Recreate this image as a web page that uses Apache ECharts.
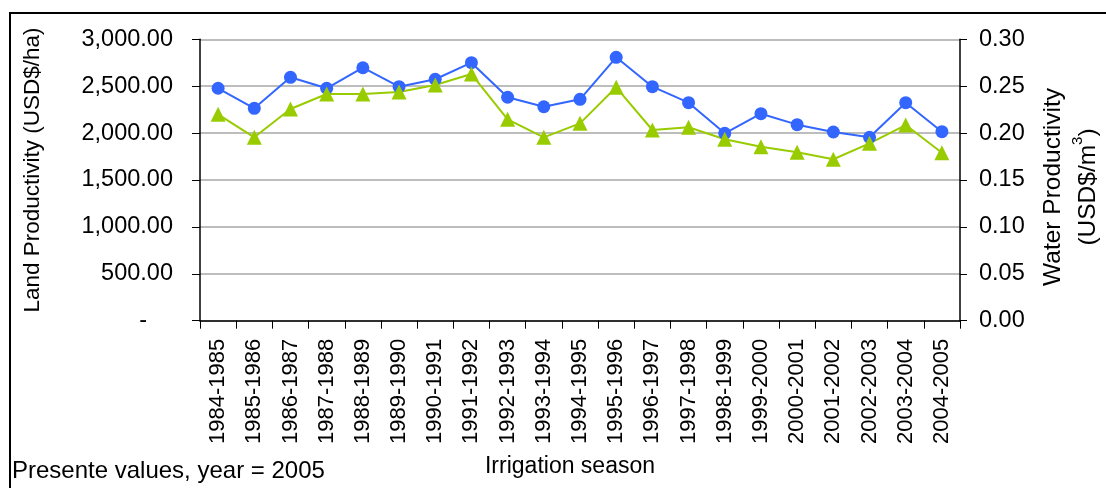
<!DOCTYPE html>
<html>
<head>
<meta charset="utf-8">
<script src="https://cdn.jsdelivr.net/npm/echarts@6/dist/echarts.min.js"></script>
<style>
html,body{margin:0;padding:0;background:#fff;}
#chart{width:1106px;height:488px;}
</style>
</head>
<body>
<div id="chart"></div>
<script>
const seasons = ['1984-1985','1985-1986','1986-1987','1987-1988','1988-1989','1989-1990','1990-1991','1991-1992','1992-1993','1993-1994','1994-1995','1995-1996','1996-1997','1997-1998','1998-1999','1999-2000','2000-2001','2001-2002','2002-2003','2003-2004','2004-2005'];
const landProductivity = [2478,2264,2595,2478,2697,2495,2574,2751,2382,2281,2360,2808,2495,2324,1998,2207,2090,2012,1955,2324,2015];
const waterProductivity = [0.220,0.1955,0.2257,0.2417,0.2417,0.2438,0.2513,0.263,0.2147,0.1955,0.2104,0.2488,0.2033,0.2062,0.1934,0.1855,0.1795,0.1721,0.1891,0.2086,0.1791];
const leftTicks = {min:0, max:3000, interval:500};
const rightTicks = {min:0, max:0.30, interval:0.05};

const FONT = 'Liberation Sans, Arial, sans-serif';
const FS = 23.5;   // y tick labels
const FX = 22;     // x tick labels

function fmtLeft(v){
  if (v === 0) return '{d|-}';
  return v.toLocaleString('en-US',{minimumFractionDigits:2, maximumFractionDigits:2});
}

const chart = echarts.init(document.getElementById('chart'), null, {renderer:'canvas'});
chart.setOption({
  animation:false,
  backgroundColor:'#fff',
  textStyle:{fontFamily:FONT},
  grid:{left:200, right:146, top:39.3, bottom:167.3, containLabel:false, outerBoundsMode:'none'},
  graphic:[
    {type:'rect', shape:{x:10, y:13, width:1200, height:600}, style:{fill:'none', stroke:'#000', lineWidth:2}, silent:true},
    {type:'text', left:12, top:459, style:{text:'Presente values, year = 2005', font:'24px '+FONT, fill:'#000'}}
  ],
  xAxis:{
    type:'category',
    data:seasons,
    boundaryGap:true,
    name:'Irrigation season',
    nameLocation:'middle',
    nameGap:134,
    nameTextStyle:{fontSize:23, color:'#000', fontFamily:FONT, padding:[0,20,0,0]},
    axisLine:{lineStyle:{color:'#000', width:1.5}},
    axisTick:{show:true, length:8, alignWithLabel:false, lineStyle:{color:'#000'}},
    axisLabel:{rotate:90, fontSize:FX, color:'#000', fontFamily:FONT, margin:18, interval:0},
    splitLine:{show:false}
  },
  yAxis:[
    {
      type:'value', position:'left',
      min:leftTicks.min, max:leftTicks.max, interval:leftTicks.interval,
      name:'Land Productivity (USD$/ha)',
      nameLocation:'middle', nameGap:156, nameRotate:90,
      nameTextStyle:{fontSize:22.5, color:'#000', fontFamily:FONT, padding:[0,0,0,20]},
      axisLine:{show:true, lineStyle:{color:'#000', width:1.5}},
      axisTick:{show:true, length:8, lineStyle:{color:'#000'}},
      axisLabel:{fontSize:FS, color:'#000', fontFamily:FONT, margin:27, formatter:fmtLeft,
        rich:{d:{fontSize:FS, color:'#000', fontFamily:FONT, padding:[0,26,0,0]}}},
      splitLine:{show:true, lineStyle:{color:'#bdbdbd', width:2}}
    },
    {
      type:'value', position:'right',
      min:rightTicks.min, max:rightTicks.max, interval:rightTicks.interval,
      name:'Water Productivity\n(USD$/m{sup|3})',
      nameLocation:'middle', nameGap:65, nameRotate:90,
      nameTextStyle:{fontSize:24.5, color:'#000', fontFamily:FONT, lineHeight:35, align:'center', padding:[0,14,0,0],
        rich:{sup:{fontSize:15, color:'#000', fontFamily:FONT, verticalAlign:'top', lineHeight:35, padding:[0,0,12,0]}}},
      axisLine:{show:true, lineStyle:{color:'#000', width:1.5}},
      axisTick:{show:true, length:7, lineStyle:{color:'#000'}},
      axisLabel:{fontSize:FS, color:'#000', fontFamily:FONT, margin:19, formatter:v=>v.toFixed(2)},
      splitLine:{show:false}
    }
  ],
  series:[
    {
      name:'Land Productivity', type:'line', yAxisIndex:0, data:landProductivity,
      symbol:'circle', symbolSize:13, showAllSymbol:true,
      lineStyle:{color:'#3366ff', width:2},
      itemStyle:{color:'#3366ff'}
    },
    {
      name:'Water Productivity', type:'line', yAxisIndex:1, data:waterProductivity,
      symbol:'triangle', symbolSize:15, showAllSymbol:true,
      lineStyle:{color:'#99cc00', width:2},
      itemStyle:{color:'#99cc00'}
    }
  ]
});
</script>
</body>
</html>
